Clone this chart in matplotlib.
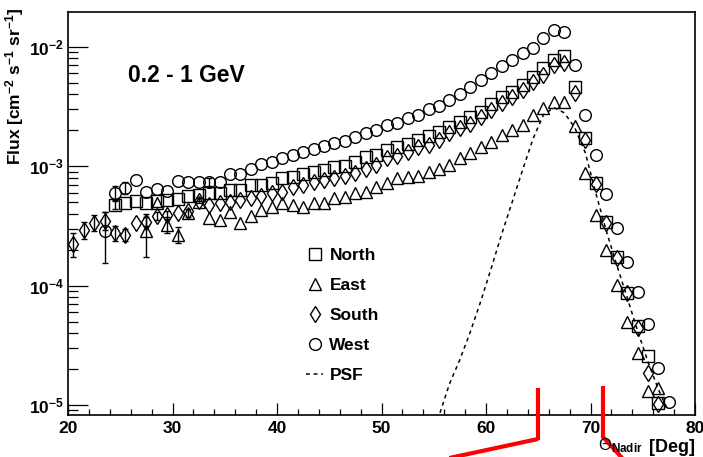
import numpy as np
import matplotlib
matplotlib.use("Agg")
import matplotlib.pyplot as plt
from matplotlib.lines import Line2D
from matplotlib.ticker import FixedLocator, FuncFormatter, NullFormatter

plt.rcParams['font.family'] = ['Liberation Sans', 'DejaVu Sans']
plt.rcParams['mathtext.fontset'] = 'custom'
plt.rcParams['mathtext.rm'] = 'Liberation Sans'
plt.rcParams['mathtext.bf'] = 'Liberation Sans:bold'
plt.rcParams['mathtext.it'] = 'Liberation Sans:italic'

# ---------------- data ----------------
north_x = [24.5, 25.5, 26.5, 27.5, 28.5, 29.5, 30.5, 31.5, 32.5, 33.5, 34.5, 35.5, 36.5,
           37.5, 38.5, 39.5, 40.5, 41.5, 42.5, 43.5, 44.5, 45.5, 46.5, 47.5, 48.5, 49.5,
           50.5, 51.5, 52.5, 53.5, 54.5, 55.5, 56.5, 57.5, 58.5, 59.5, 60.5, 61.5, 62.5,
           63.5, 64.5, 65.5, 66.5, 67.5, 68.5, 69.5, 70.5, 71.5, 72.5, 73.5, 74.5, 75.5, 76.5]
north_y = [4.77e-4, 4.95e-4, 5.15e-4, 4.95e-4, 5.15e-4, 5.25e-4, 5.35e-4, 5.67e-4, 5.78e-4,
           6.00e-4, 6.00e-4, 6.36e-4, 6.36e-4, 7.00e-4, 7.00e-4, 7.27e-4, 8.01e-4, 8.17e-4,
           8.65e-4, 9.00e-4, 9.35e-4, 9.90e-4, 1.01e-3, 1.09e-3, 1.20e-3, 1.25e-3, 1.37e-3,
           1.45e-3, 1.54e-3, 1.67e-3, 1.80e-3, 1.95e-3, 2.14e-3, 2.36e-3, 2.60e-3, 2.86e-3,
           3.33e-3, 3.82e-3, 4.20e-3, 4.81e-3, 5.61e-3, 6.67e-3, 7.78e-3, 8.42e-3, 4.62e-3,
           1.73e-3, 7.27e-4, 3.44e-4, 1.75e-4, 8.7e-5, 4.55e-5, 2.55e-5, 1.03e-5]
north_err = [4e-5] + [0] * 52

east_x = [27.5, 28.5, 29.5, 30.5, 31.5, 32.5, 33.5, 34.5, 35.5, 36.5, 37.5, 38.5, 39.5,
          40.5, 41.5, 42.5, 43.5, 44.5, 45.5, 46.5, 47.5, 48.5, 49.5, 50.5, 51.5, 52.5,
          53.5, 54.5, 55.5, 56.5, 57.5, 58.5, 59.5, 60.5, 61.5, 62.5, 63.5, 64.5, 65.5,
          66.5, 67.5, 68.5, 69.5, 70.5, 71.5, 72.5, 73.5, 74.5, 75.5, 76.5]
east_y = [2.85e-4, 4.95e-4, 3.24e-4, 2.67e-4, 4.08e-4, 5.0e-4, 3.66e-4, 3.57e-4, 4.16e-4,
          3.37e-4, 3.8e-4, 4.33e-4, 4.59e-4, 4.95e-4, 4.77e-4, 4.59e-4, 4.95e-4, 4.95e-4,
          5.45e-4, 5.56e-4, 6.00e-4, 6.12e-4, 6.73e-4, 7.27e-4, 8.01e-4, 8.17e-4, 8.33e-4,
          9.00e-4, 9.53e-4, 1.03e-3, 1.18e-3, 1.30e-3, 1.45e-3, 1.60e-3, 1.84e-3, 2.02e-3,
          2.22e-3, 2.70e-3, 3.09e-3, 3.46e-3, 3.46e-3, 2.18e-3, 8.82e-4, 3.93e-4, 2.00e-4,
          1.02e-4, 5.0e-5, 2.75e-5, 1.30e-5, 1.40e-5]
east_err = [1.1e-4, 0, 5e-5, 4e-5, 3e-5] + [0] * 45

south_x = [20.5, 21.5, 22.5, 23.5, 24.5, 25.5, 26.5, 27.5, 28.5, 29.5, 30.5, 31.5, 32.5,
           33.5, 34.5, 35.5, 36.5, 37.5, 38.5, 39.5, 40.5, 41.5, 42.5, 43.5, 44.5, 45.5,
           46.5, 47.5, 48.5, 49.5, 50.5, 51.5, 52.5, 53.5, 54.5, 55.5, 56.5, 57.5, 58.5,
           59.5, 60.5, 61.5, 62.5, 63.5, 64.5, 65.5, 66.5, 67.5, 68.5, 69.5, 70.5, 71.5,
           72.5, 73.5, 74.5, 75.5, 76.5]
south_y = [2.24e-4, 2.94e-4, 3.37e-4, 3.50e-4, 2.78e-4, 2.67e-4, 3.37e-4, 3.44e-4, 3.86e-4,
           3.93e-4, 4.08e-4, 4.25e-4, 5.15e-4, 4.77e-4, 4.95e-4, 5.05e-4, 5.25e-4, 5.45e-4,
           5.67e-4, 6.00e-4, 6.12e-4, 6.73e-4, 7.00e-4, 7.42e-4, 7.71e-4, 8.01e-4, 8.33e-4,
           8.82e-4, 9.53e-4, 1.03e-3, 1.18e-3, 1.22e-3, 1.32e-3, 1.45e-3, 1.51e-3, 1.67e-3,
           1.90e-3, 2.10e-3, 2.27e-3, 2.60e-3, 2.97e-3, 3.40e-3, 3.82e-3, 4.37e-3, 5.10e-3,
           5.83e-3, 7.06e-3, 7.34e-3, 4.13e-3, 1.67e-3, 7.14e-4, 3.37e-4, 1.72e-4, 8.6e-5,
           4.45e-5, 1.87e-5, 1.02e-5]
south_err = [5e-5, 5e-5, 5e-5, 6e-5, 4e-5, 3e-5, 0, 3e-5, 3e-5, 3e-5, 0, 0, 2.5e-5] + [0] * 44

west_x = [23.5, 24.5, 25.5, 26.5, 27.5, 28.5, 29.5, 30.5, 31.5, 32.5, 33.5, 34.5, 35.5,
          36.5, 37.5, 38.5, 39.5, 40.5, 41.5, 42.5, 43.5, 44.5, 45.5, 46.5, 47.5, 48.5,
          49.5, 50.5, 51.5, 52.5, 53.5, 54.5, 55.5, 56.5, 57.5, 58.5, 59.5, 60.5, 61.5,
          62.5, 63.5, 64.5, 65.5, 66.5, 67.5, 68.5, 69.5, 70.5, 71.5, 72.5, 73.5, 74.5,
          75.5, 76.5, 77.5]
west_y = [2.85e-4, 6.00e-4, 6.62e-4, 7.71e-4, 6.12e-4, 6.48e-4, 6.24e-4, 7.56e-4, 7.42e-4,
          7.42e-4, 7.42e-4, 7.42e-4, 8.65e-4, 8.65e-4, 9.53e-4, 1.05e-3, 1.09e-3, 1.18e-3,
          1.25e-3, 1.32e-3, 1.40e-3, 1.48e-3, 1.57e-3, 1.63e-3, 1.77e-3, 1.90e-3, 2.02e-3,
          2.22e-3, 2.31e-3, 2.54e-3, 2.70e-3, 3.03e-3, 3.21e-3, 3.60e-3, 4.05e-3, 4.62e-3,
          5.30e-3, 6.06e-3, 6.92e-3, 7.78e-3, 8.90e-3, 9.81e-3, 1.19e-2, 1.39e-2, 1.34e-2,
          7.06e-3, 2.70e-3, 1.25e-3, 5.90e-4, 3.06e-4, 1.59e-4, 8.9e-5, 4.8e-5, 2.06e-5,
          1.05e-5]
west_err = [1.3e-4, 9e-5, 8e-5, 0, 0, 0, 0, 0, 0, 0, 6e-5] + [0] * 44

psf_x = [55.6, 56.5, 57.5, 58.5, 59.5, 60.5, 61.5, 62.5, 63.5, 64.5, 65.5, 66.5, 67.5,
         68.5, 69.5, 70.5, 71.5, 72.5, 73.5, 74.5, 75.5, 76.5, 77.3]
psf_y = [8.6e-6, 1.5e-5, 2.4e-5, 4.1e-5, 7.4e-5, 1.4e-4, 2.7e-4, 5.0e-4, 9.3e-4, 1.7e-3,
         2.7e-3, 3.1e-3, 2.8e-3, 2.1e-3, 1.3e-3, 6.0e-4, 2.9e-4, 1.5e-4, 8.0e-5, 4.2e-5,
         2.3e-5, 1.35e-5, 9.5e-6]

x_ticks = [20, 30, 40, 50, 60, 70, 80]
y_ticks = [1e-5, 1e-4, 1e-3, 1e-2]
title_text = "0.2 - 1 GeV"
legend_labels = ["North", "East", "South", "West", "PSF"]

# ---------------- figure ----------------
W, H = 703, 457
fig = plt.figure(figsize=(W / 100, H / 100), dpi=100)
ax = fig.add_axes([68 / W, 1 - 415 / H, (695 - 68) / W, (415 - 12) / H])

ax.set_yscale('log')
ax.set_xlim(20, 80)
ax.set_ylim(8.25e-6, 1.96e-2)

def draw(xs, ys, errs, marker, ms):
    xs = np.array(xs); ys = np.array(ys); errs = np.array(errs)
    has = errs > 0
    if has.any():
        ax.errorbar(xs[has], ys[has], yerr=errs[has], fmt='none', ecolor='black',
                    elinewidth=1.0, capsize=2.5, capthick=1.0, zorder=2)
    ax.plot(xs, ys, marker=marker, ms=ms, mfc='none', mec='black', mew=1.0,
            linestyle='none', zorder=3)

draw(north_x, north_y, north_err, 's', 8.0)
draw(east_x, east_y, east_err, '^', 8.6)
draw(south_x, south_y, south_err, 'd', 8.5)
draw(west_x, west_y, west_err, 'o', 8.4)
ax.plot(psf_x, psf_y, color='black', linestyle=(0, (2.5, 2.5)), linewidth=1.1, zorder=2)

# axes styling (ROOT-like)
for s in ax.spines.values():
    s.set_linewidth(1.2)
ax.xaxis.set_major_locator(FixedLocator(x_ticks))
ax.xaxis.set_minor_locator(FixedLocator(np.arange(20, 81, 2)))
ax.yaxis.set_major_locator(FixedLocator(y_ticks))
ax.yaxis.set_minor_locator(FixedLocator([m * 10.0 ** e for e in range(-6, -1) for m in range(2, 10)]))
ax.yaxis.set_minor_formatter(NullFormatter())
ax.yaxis.set_major_formatter(FuncFormatter(lambda v, p: r'$\mathbf{10^{%d}}$' % int(round(np.log10(v)))))
ax.tick_params(axis='x', which='major', direction='in', length=8.6, width=0.9,
               labelsize=12.5, pad=4, top=False)
ax.tick_params(axis='x', which='minor', direction='in', length=4.5, width=0.9, top=False)
ax.tick_params(axis='y', which='major', direction='in', length=14.4, width=0.9,
               labelsize=12.5, pad=3, right=False)
ax.tick_params(axis='y', which='minor', direction='in', length=7.2, width=0.9, right=False)
for lab in ax.get_xticklabels():
    lab.set_fontweight('bold')

# title text
fig.text(128 / W, 1 - 75 / H, title_text, fontsize=16.5, fontweight='bold',
         ha='left', va='center')

# y label
fig.text(15 / W, 1 - 8 / H, r'Flux [cm$^{\mathbf{-2}}$ s$^{\mathbf{-1}}$ sr$^{\mathbf{-1}}$]',
         rotation=90, ha='center', va='top', fontsize=12.5, fontweight='bold')

# x label
fig.text(695 / W, 1 - 447 / H, '[Deg]', ha='right', va='center', fontsize=13, fontweight='bold')
fig.text(598 / W, 1 - 446 / H, r'$\Theta_{\mathbf{Nadir}}$', ha='left', va='center', fontsize=12)

# legend
handles = [
    Line2D([], [], marker='s', ms=8.5, mfc='none', mec='black', mew=1.0, linestyle='none'),
    Line2D([], [], marker='^', ms=9, mfc='none', mec='black', mew=1.0, linestyle='none'),
    Line2D([], [], marker='d', ms=8.0, mfc='none', mec='black', mew=1.0, linestyle='none'),
    Line2D([], [], marker='o', ms=8.5, mfc='none', mec='black', mew=1.0, linestyle='none'),
    Line2D([], [], color='black', linestyle=(0, (2.5, 2.5)), linewidth=1.1),
]
leg = fig.legend(handles, legend_labels, loc='upper left',
                 bbox_to_anchor=(306 / W, 1 - 248 / H), frameon=False,
                 prop={'size': 12.5, 'weight': 'bold'}, handlelength=1.0,
                 handletextpad=0.35, labelspacing=0.86, borderpad=0, borderaxespad=0)

# red annotation strokes
red = dict(color='red', linewidth=3.0, solid_capstyle='butt', transform=fig.transFigure)
def px(xp, yp):
    return xp / W, 1 - yp / H
for (x0, y0), (x1, y1) in [((538, 388), (538, 440)), ((538, 439), (440, 460)),
                           ((603, 386), (603, 438)), ((603, 437), (624, 460))]:
    a, b = px(x0, y0); c, d = px(x1, y1)
    fig.add_artist(Line2D([a, c], [b, d], **red))

fig.savefig('out.png', dpi=100)
